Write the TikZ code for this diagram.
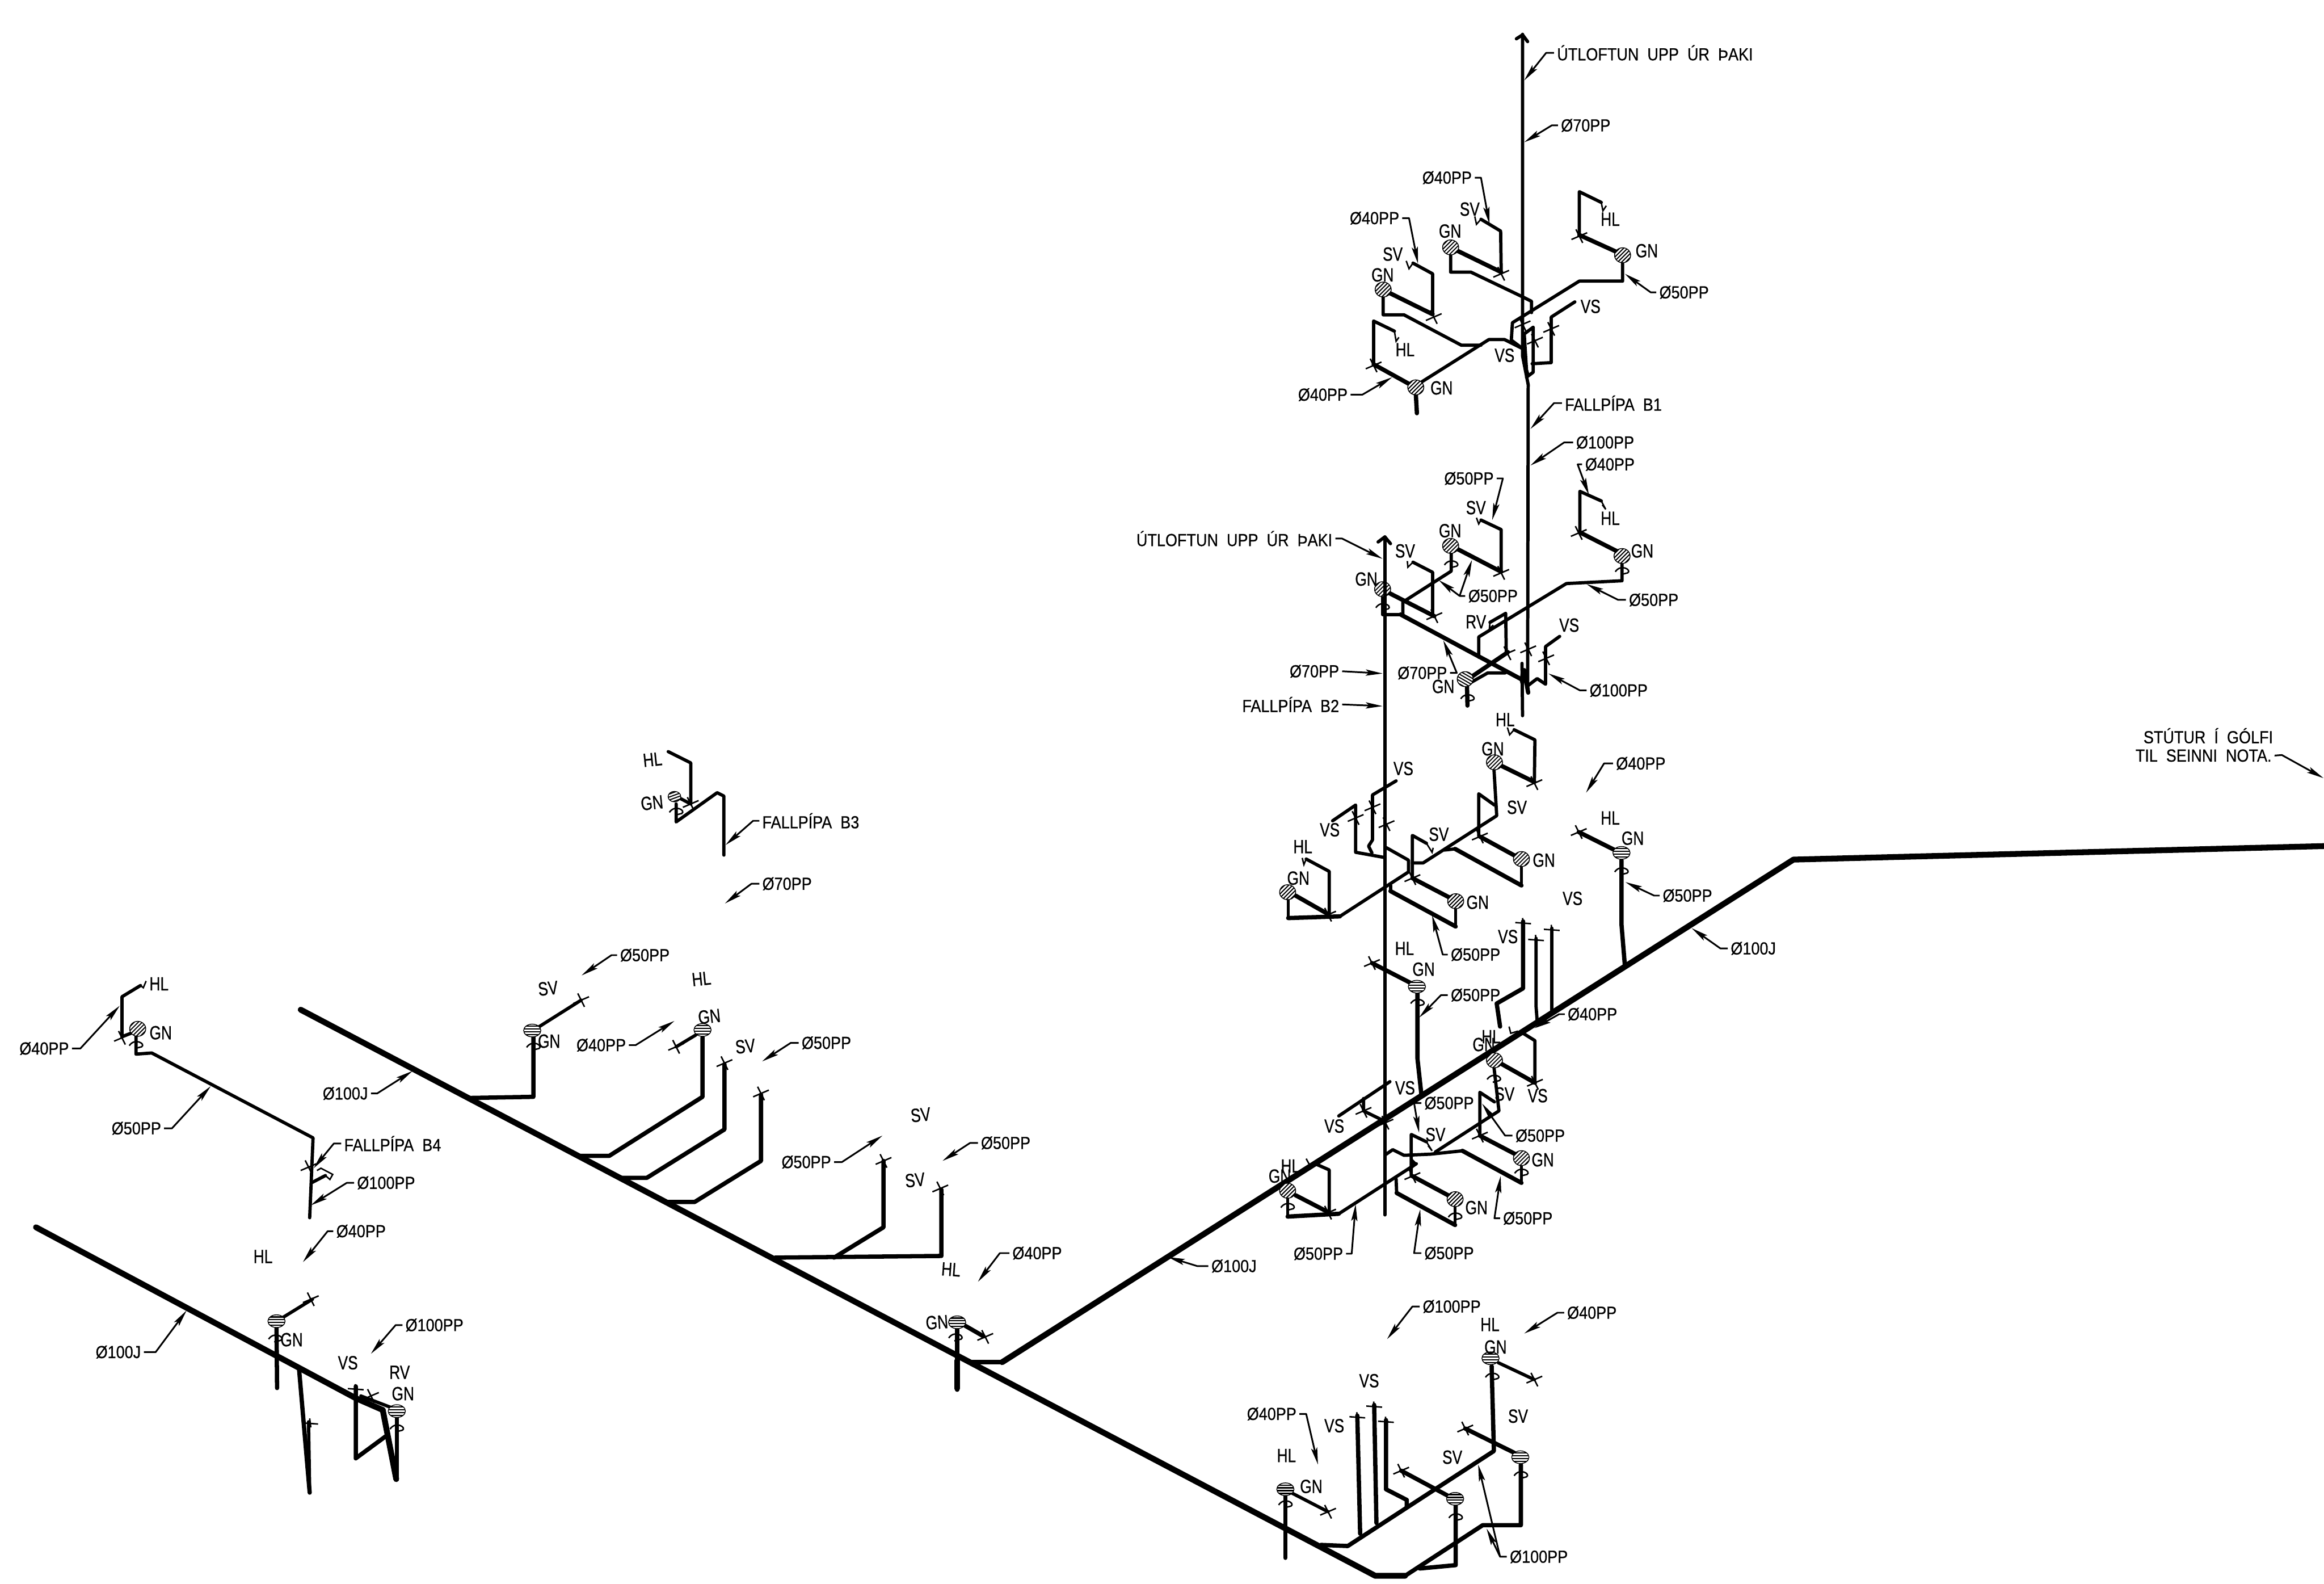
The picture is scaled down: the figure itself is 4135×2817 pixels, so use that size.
\documentclass[tikz,border=0pt]{standalone}
\usepackage{fontspec}
\usetikzlibrary{arrows.meta}
\newfontfamily\cadf[FakeBold=0.7]{Liberation Sans}
\newcounter{cn}
\tikzset{
 pa/.style={line width=2.25pt,line cap=round,line join=round},
 pb/.style={line width=2.9pt,line cap=round,line join=round},
 pc/.style={line width=3.8pt,line cap=round,line join=round},
 pd/.style={line width=5.2pt,line cap=round,line join=round},
 wg/.style={line width=1.3pt,line join=miter},
 mk/.style={line width=1.3pt},
 lead/.style={line width=1.5pt,line join=round,-{Stealth[length=15pt,width=5.5pt,inset=3pt]}},
 tagn/.style={font=\cadf\fontsize{17}{19}\selectfont,inner sep=0pt},
 labn/.style={font=\cadf\fontsize{15.5}{18}\selectfont,inner sep=2.5pt},
}
\newcommand\tg[4][0]{\stepcounter{cn}\node[tagn,rotate=#1] (t\arabic{cn}) at (#2,#3) {\scalebox{.78}[1]{#4}};}
% \lb{anchor}{x}{y}{text}{rest of leader path}
\newcommand\lb[5]{\stepcounter{cn}\node[labn,anchor=#1] (n\arabic{cn}) at (#2,#3) {\scalebox{.88}[1]{#4}};\draw[lead] (n\arabic{cn}.#1) #5;}
\newcommand\xm[2]{\draw[mk] (#1-14,#2+6)--(#1+14,#2-6) (#1-6,#2-12)--(#1+6,#2+12);}
\newcommand\tk[2]{\draw[mk] (#1-14,#2)--(#1+14,#2+2) (#1-1,#2-8)--(#1+1,#2+8);}
\newcommand\wig[2]{\draw[mk] (#1-12,#2+5) .. controls (#1-2,#2-10) and (#1+18,#2+2) .. (#1+10,#2+7) -- (#1-2,#2+10);}
\newcommand\gnx[5]{\fill[black] (#1,#2) ellipse [x radius=#3,y radius=#4];
 \begin{scope}\clip (#1,#2) ellipse [x radius=#3-1.5,y radius=#4-1.5];
 \foreach \i in {-10,-5,0,5,10} \draw[white,line width=1.4pt,rotate around={#5:(#1,#2)}] (#1-25,#2+\i)--(#1+25,#2+\i);
 \end{scope}}
\newcommand\gn[2]{\gnx{#1}{#2}{15}{14}{45}}
\newcommand\gh[2]{\gnx{#1}{#2}{16}{12}{0}}
\begin{document}
\begin{tikzpicture}[x=.5pt,y=-.5pt]
\useasboundingbox (0,0) rectangle (4135,2817);
\fill[white] (0,0) rectangle (4135,2817);
% ---------- main drains
\draw[pd] (535,1796)--(2447,2803)--(2500,2803);
\draw[pc] (2500,2803)--(2638,2713)--(2706,2713)--(2706,2605);
\draw[pc] (1730,2423)--(1783,2423);
\draw[pd] (1783,2423)--(3191,1529)--(4135,1505);
\draw[pd] (64,2183)--(633,2487)--(681,2508);
\draw[pd] (681,2508)--(705,2631);
% ---------- stack B1
\draw[pb] (2709,61)--(2709,633)--(2719,684)--(2718,1228);
\draw[pb] (2698,69)--(2709,62)--(2718,74);
% top cluster
\draw[wg] (2624,385)--(2627,399)--(2635,390);
\draw[pb] (2635,390)--(2670,411)--(2671,484);
\draw[pc] (2671,484)--(2593,446);
\xm{2671}{487}
\draw[pb] (2581,449)--(2581,484)--(2617,484)--(2709,528)--(2725,536)--(2725,556);
\gn{2581}{440}
\draw[wg] (2502,464)--(2507,478)--(2514,468);
\draw[pb] (2514,468)--(2549,487)--(2549,559);
\draw[pc] (2549,559)--(2470,520);
\xm{2551}{564}
\draw[pb] (2461,525)--(2461,560)--(2498,560)--(2600,614)--(2635,614);
\gn{2461}{515}
\draw[pb] (2530,679)--(2649,604)--(2677,604)--(2709,620);
\draw[pc] (2519,699)--(2521,735);
\draw[pb] (2444,648)--(2444,571)--(2481,589);
\draw[wg] (2481,589)--(2484,607)--(2489,600);
\draw[pc] (2444,648)--(2509,684);
\xm{2444}{650}
\gn{2519}{689}
\draw[pb] (2849,360)--(2810,341)--(2810,418);
\draw[wg] (2849,360)--(2852,375)--(2858,366);
\draw[pc] (2810,418)--(2876,448);
\xm{2810}{420}
\draw[pb] (2887,464)--(2887,500)--(2810,500)--(2691,574)--(2689,605)--(2709,620);
\gn{2887}{454}
\draw[pb] (2802,537)--(2760,564)--(2760,645)--(2726,647);
\xm{2760}{585}
\draw[pb] (2716,671)--(2728,662)--(2728,582)--(2712,594)--(2716,658)--(2719,668);
\xm{2731}{606}
\xm{2709}{577}
% second cluster
\draw[pb] (2849,891)--(2811,874)--(2811,947);
\draw[wg] (2849,891)--(2857,906)--(2851,898);
\draw[pc] (2811,947)--(2878,981);
\xm{2809}{948}
\draw[pb] (2886,998)--(2886,1033)--(2787,1038)--(2631,1133)--(2631,1169);
\wig{2886}{1012}
\gn{2886}{989}
\draw[pb] (2651,1107)--(2679,1091)--(2680,1162);
\draw[wg] (2651,1107)--(2650,1118)--(2657,1112);
\draw[pc] (2683,1160)--(2618,1204);
\xm{2682}{1162}
\draw[pb] (2610,1218)--(2647,1197)--(2678,1197);
\draw[pc] (2610,1215)--(2611,1255);
\wig{2611}{1238}
\gnx{2607}{1208}{15}{14}{-30}
\draw[pb] (2460,1060)--(2460,1093)--(2492,1093);
\draw[pc] (2492,1093)--(2710,1210);
\wig{2460}{1076}
\draw[pc] (2468,1053)--(2552,1096);
\xm{2552}{1096}
\draw[pb] (2514,1000)--(2549,1018)--(2549,1096);
\draw[wg] (2504,998)--(2505,1009)--(2514,1000);
\gn{2460}{1048}
\draw[pb] (2582,982)--(2582,1016)--(2496,1071)--(2496,1096);
\wig{2582}{1000}
\draw[pc] (2592,976)--(2671,1017);
\xm{2671}{1019}
\draw[pb] (2635,925)--(2671,942)--(2671,1017);
\draw[wg] (2627,921)--(2631,932)--(2635,925);
\gn{2581}{971}
\draw[pb] (2708,1180)--(2709,1273);
\fill (2708,1178)--(2713,1210)--(2709,1232)--(2704,1210)--cycle;
\draw[pc] (2712,1192)--(2719,1232);
\draw[pb] (2718,1220)--(2735,1207)--(2750,1217)--(2750,1150)--(2775,1132);
\xm{2719}{1155}
\xm{2751}{1171}
% ---------- stack B2
\draw[pb] (2464,955)--(2464,2161);
\draw[pb] (2452,964)--(2464,955)--(2474,967);
% third cluster
\draw[wg] (2682,1294)--(2686,1307)--(2694,1298);
\draw[pb] (2694,1298)--(2731,1316)--(2730,1391);
\draw[pc] (2730,1391)--(2669,1361);
\xm{2730}{1393}
\draw[pb] (2658,1366)--(2663,1451)--(2532,1535)--(2513,1535);
\gn{2659}{1356}
\draw[pb] (2659,1432)--(2631,1412)--(2631,1487);
\draw[pc] (2633,1488)--(2697,1523);
\xm{2633}{1488}
\draw[pb] (2707,1537)--(2707,1575);
\draw[pc] (2707,1575)--(2589,1510);
\draw[pb] (2589,1510)--(2570,1512);
\gn{2707}{1528}
\draw[wg] (2538,1500)--(2548,1516)--(2550,1508);
\draw[pb] (2538,1500)--(2513,1486)--(2513,1562);
\draw[pc] (2513,1562)--(2580,1597);
\xm{2513}{1562}
\draw[pb] (2590,1614)--(2590,1648);
\draw[pc] (2590,1648)--(2474,1585);
\draw[pb] (2474,1585)--(2474,1575);
\gn{2590}{1603}
\draw[pb] (2467,1508)--(2506,1530)--(2506,1551)--(2384,1630);
\draw[pc] (2384,1630)--(2292,1633);
\draw[pb] (2292,1633)--(2292,1598);
\draw[pc] (2305,1593)--(2363,1626);
\xm{2363}{1627}
\draw[pb] (2324,1528)--(2365,1550)--(2365,1625);
\draw[wg] (2317,1526)--(2320,1538)--(2324,1528);
\gn{2291}{1587}
\draw[pb] (2371,1460)--(2412,1432)--(2412,1516)--(2462,1525);
\xm{2412}{1455}
\draw[pb] (2484,1389)--(2442,1414)--(2442,1494)--(2435,1505)--(2441,1517);
\xm{2442}{1436}
\xm{2467}{1466}
% mid-right branches
\draw[pc] (2809,1480)--(2873,1512);
\xm{2809}{1480}
\draw[pc] (2885,1530)--(2885,1644)--(2891,1717);
\wig{2885}{1546}
\gh{2885}{1517}
\draw[pc] (2710,1639)--(2710,1758)--(2663,1785)--(2669,1826);
\tk{2710}{1641}
\draw[pb] (2733,1669)--(2733,1790)--(2735,1816);
\tk{2733}{1671}
\draw[pb] (2761,1651)--(2761,1798);
\tk{2761}{1653}
\draw[pc] (2441,1713)--(2509,1748);
\xm{2441}{1713}
\draw[pc] (2522,1762)--(2522,1883)--(2529,1947);
\wig{2522}{1780}
\gh{2521}{1755}
% fourth cluster
\draw[wg] (2685,1826)--(2688,1838)--(2701,1834);
\draw[pb] (2710,1838)--(2731,1851)--(2731,1924);
\draw[pc] (2731,1926)--(2669,1891);
\xm{2731}{1926}
\draw[pb] (2658,1897)--(2667,1976)--(2554,2049);
\wig{2658}{1915}
\gn{2659}{1886}
\draw[pb] (2465,2054)--(2478,2045)--(2498,2055)--(2545,2053)--(2602,2047);
\draw[pc] (2602,2047)--(2707,2104);
\draw[pb] (2707,2072)--(2707,2104);
\wig{2707}{2082}
\draw[pc] (2633,2020)--(2698,2054);
\xm{2633}{2020}
\draw[pb] (2659,1960)--(2633,1943)--(2633,2020);
\gn{2707}{2060}
\draw[wg] (2538,2031)--(2548,2047)--(2541,2038);
\draw[pb] (2538,2031)--(2511,2018)--(2511,2092);
\draw[pc] (2513,2092)--(2580,2128);
\xm{2513}{2092}
\draw[pb] (2589,2145)--(2589,2179);
\wig{2589}{2160}
\draw[pc] (2589,2179)--(2485,2122);
\draw[pb] (2485,2122)--(2484,2097);
\gn{2589}{2133}
\draw[pb] (2520,2070)--(2382,2159);
\fill (2510,2058)--(2522,2070)--(2510,2082)--cycle;
\draw[pc] (2382,2159)--(2291,2164);
\draw[pb] (2291,2164)--(2291,2129);
\wig{2291}{2143}
\draw[pc] (2305,2126)--(2363,2156);
\xm{2363}{2157}
\draw[pb] (2340,2070)--(2365,2081)--(2365,2156);
\draw[wg] (2324,2061)--(2330,2072)--(2340,2070);
\gn{2291}{2118}
\draw[pb] (2473,1924)--(2382,1985);
\draw[pb] (2426,1954)--(2426,1976)--(2465,1995);
\xm{2426}{1976}
\xm{2465}{1997}
% bottom centre
\draw[pc] (2350,2748)--(2398,2750)--(2658,2581)--(2654,2430);
\draw[pb] (2666,2424)--(2730,2454);
\xm{2730}{2454}
\wig{2655}{2445}
\gh{2652}{2416}
\draw[pc] (2607,2541)--(2694,2584);
\xm{2607}{2541}
\wig{2706}{2620}
\gh{2705}{2592}
\draw[pc] (2526,2790)--(2590,2784)--(2590,2678);
\wig{2590}{2695}
\draw[pc] (2493,2616)--(2577,2661);
\xm{2493}{2616}
\gh{2589}{2666}
\draw[pc] (2287,2656)--(2287,2771);
\wig{2287}{2672}
\draw[pb] (2299,2656)--(2363,2689);
\xm{2363}{2689}
\gh{2287}{2649}
\draw[pc] (2415,2518)--(2420,2728);
\tk{2415}{2520}
\draw[pc] (2445,2499)--(2449,2709);
\tk{2445}{2501}
\draw[pc] (2466,2526)--(2466,2649)--(2503,2668)--(2503,2680);
\tk{2466}{2528}
% ---------- left group B3
\draw[pb] (1189,1337)--(1229,1357)--(1229,1430);
\draw[pb] (1208,1419)--(1229,1430);
\xm{1229}{1430}
\draw[pb] (1203,1430)--(1203,1462)--(1276,1410)--(1288,1416)--(1288,1521);
\wig{1203}{1440}
\gnx{1200}{1417}{12}{10}{20}
% branches off main drain
\draw[pb] (958,1827)--(1034,1779);
\xm{1034}{1779}
\draw[pc] (949,1845)--(949,1951)--(835,1953);
\wig{949}{1858}
\gh{947}{1833}
\draw[pb] (1238,1841)--(1203,1862);
\xm{1203}{1862}
\draw[pc] (1250,1845)--(1250,1951)--(1084,2056)--(1031,2056);
\gh{1250}{1832}
\xm{1289}{1891}
\draw[pc] (1289,1893)--(1289,2009)--(1151,2095)--(1102,2095);
\xm{1354}{1945}
\draw[pc] (1354,1947)--(1354,2065)--(1236,2138)--(1186,2138);
\xm{1572}{2065}
\draw[pc] (1572,2065)--(1572,2183)--(1484,2237);
\draw[pc] (1379,2237)--(1675,2234)--(1675,2116);
\xm{1673}{2114}
% centre GN on main drain
\draw[pc] (1703,2360)--(1703,2472);
\draw[line width=4.6pt,line cap=round] (1703,2420)--(1703,2470);
\wig{1700}{2375}
\draw[pc] (1717,2358)--(1750,2377);
\xm{1753}{2378}
\gh{1703}{2352}
% ---------- far left group
\draw[pb] (250,1753)--(217,1773)--(217,1844);
\draw[wg] (250,1753)--(255,1757)--(260,1745);
\draw[pb] (217,1844)--(238,1836);
\xm{217}{1846}
\draw[pb] (242,1841)--(242,1875)--(270,1873)--(557,2024)--(551,2166);
\wig{242}{1855}
\gn{245}{1830}
\xm{549}{2076}
\draw[pb] (556,2103)--(579,2091);
\draw[mk] (579,2091)--(587,2098)--(592,2089)--(571,2078)--(564,2082);
% bottom-left group
\draw[pb] (504,2343)--(556,2311);
\xm{553}{2311}
\draw[pc] (492,2361)--(493,2469);
\wig{490}{2377}
\gh{492}{2350}
\draw[pc] (532,2434)--(551,2655);
\draw[pb] (549,2529)--(551,2655);
\tk{552}{2531}
\draw[pc] (633,2466)--(633,2594)--(686,2555);
\tk{633}{2470}
\draw[pb] (642,2483)--(697,2504);
\xm{660}{2483}
\draw[pc] (706,2519)--(706,2631);
\wig{706}{2537}
\gh{706}{2510}
% ---------- tags
\tg{2615}{372}{SV}\tg{2580}{411}{GN}\tg{2478}{452}{SV}\tg{2460}{489}{GN}
\tg{2865}{390}{HL}\tg{2930}{446}{GN}\tg{2830}{545}{VS}\tg{2677}{632}{VS}
\tg{2500}{622}{HL}\tg{2565}{690}{GN}
\tg{2865}{922}{HL}\tg{2922}{980}{GN}\tg{2626}{903}{SV}\tg{2580}{944}{GN}
\tg{2500}{980}{SV}\tg{2431}{1030}{GN}\tg{2626}{1106}{RV}\tg{2792}{1112}{VS}
\tg{2568}{1221}{GN}
\tg{2678}{1280}{HL}\tg{2656}{1332}{GN}\tg{2497}{1367}{VS}\tg{2699}{1436}{SV}
\tg{2560}{1484}{SV}\tg{2366}{1476}{VS}\tg{2318}{1506}{HL}\tg{2747}{1530}{GN}
\tg{2310}{1562}{GN}\tg{2629}{1605}{GN}\tg{2865}{1455}{HL}\tg{2905}{1491}{GN}
\tg{2798}{1598}{VS}\tg{2683}{1666}{VS}\tg{2499}{1687}{HL}\tg{2533}{1724}{GN}
\tg{2653}{1844}{HL}\tg{2640}{1858}{GN}\tg{2677}{1946}{SV}\tg{2736}{1949}{VS}
\tg{2500}{1935}{VS}\tg{2374}{2003}{VS}\tg{2554}{2018}{SV}\tg{2745}{2063}{GN}
\tg{2296}{2074}{HL}\tg{2277}{2092}{GN}\tg{2627}{2148}{GN}
\tg{2436}{2456}{VS}\tg{2374}{2536}{VS}\tg{2289}{2589}{HL}\tg{2333}{2644}{GN}
\tg{2584}{2592}{SV}\tg{2701}{2519}{SV}\tg{2651}{2356}{HL}\tg{2661}{2396}{GN}
\tg[6]{1161}{1351}{HL}\tg[6]{1160}{1428}{GN}\tg[6]{975}{1758}{SV}\tg{977}{1852}{GN}
\tg[6]{1248}{1741}{HL}\tg[6]{1262}{1808}{GN}\tg[6]{1326}{1861}{SV}\tg[6]{1638}{1983}{SV}
\tg[6]{1628}{2099}{SV}\tg[-4]{1692}{2258}{HL}\tg[4]{1667}{2352}{GN}
\tg{283}{1750}{HL}\tg{286}{1837}{GN}\tg{468}{2235}{HL}\tg{519}{2383}{GN}
\tg{619}{2424}{VS}\tg{711}{2441}{RV}\tg{717}{2479}{GN}
% ---------- leader labels
\lb{west}{2765}{94}{ÚTLOFTUN\ \ UPP\ \ ÚR\ \ ÞAKI}{--(2751,94)--(2712,143)}
\lb{west}{2772}{223}{Ø70PP}{--(2761,223)--(2712,253)}
\lb{east}{2624}{316}{Ø40PP}{--(2635,316)--(2650,398)}
\lb{east}{2495}{388}{Ø40PP}{--(2507,388)--(2523,469)}
\lb{east}{2403}{702}{Ø40PP}{--(2424,702)--(2477,671)}
\lb{west}{2947}{520}{Ø50PP}{--(2937,520)--(2891,487)}
\lb{west}{2779}{717}{FALLPÍPA\ \ B1}{--(2765,717)--(2723,763)}
\lb{west}{2799}{787}{Ø100PP}{--(2783,787)--(2723,828)}
\lb{west}{2815}{826}{Ø40PP}{--(2807,826)--(2827,880)}
\lb{east}{2663}{851}{Ø50PP}{--(2674,851)--(2655,925)}
\lb{west}{2893}{1067}{Ø50PP}{--(2879,1067)--(2823,1039)}
\lb{west}{2607}{1060}{Ø50PP}{--(2597,1060)--(2619,996)}
\draw[lead] (2597,1060)--(2560,1032);
\lb{east}{2376}{958}{ÚTLOFTUN\ \ UPP\ \ ÚR\ \ ÞAKI}{--(2388,958)--(2460,994)}
\lb{east}{2388}{1194}{Ø70PP}{--(2460,1198)}
\lb{east}{2388}{1253}{FALLPÍPA\ \ B2}{--(2460,1256)}
\lb{east}{2580}{1197}{Ø70PP}{--(2592,1197)--(2568,1139)}
\lb{west}{2823}{1228}{Ø100PP}{--(2811,1228)--(2755,1198)}
\lb{west}{2870}{1358}{Ø40PP}{--(2854,1358)--(2822,1410)}
\lb{west}{2953}{1593}{Ø50PP}{--(2943,1593)--(2892,1569)}
\lb{west}{3074}{1687}{Ø100J}{--(3061,1687)--(3010,1651)}
\lb{west}{2576}{1698}{Ø50PP}{--(2567,1698)--(2548,1628)}
\lb{west}{2576}{1770}{Ø50PP}{--(2564,1770)--(2525,1810)}
\lb{west}{2784}{1804}{Ø40PP}{--(2774,1804)--(2730,1829)}
\lb{west}{2529}{1962}{Ø50PP}{--(2516,1962)--(2525,2015)}
\lb{west}{2691}{2020}{Ø50PP}{--(2678,2020)--(2637,1963)}
\lb{west}{2669}{2167}{Ø50PP}{--(2659,2167)--(2670,2092)}
\lb{east}{2395}{2230}{Ø50PP}{--(2405,2230)--(2412,2142)}
\lb{west}{2529}{2229}{Ø50PP}{--(2516,2229)--(2527,2151)}
\lb{west}{2150}{2252}{Ø100J}{--(2130,2252)--(2078,2236)}
\lb{west}{2526}{2324}{Ø100PP}{--(2513,2324)--(2468,2382)}
\lb{west}{2783}{2335}{Ø40PP}{--(2771,2335)--(2712,2372)}
\lb{east}{2312}{2515}{Ø40PP}{--(2324,2515)--(2345,2605)}
\lb{west}{2681}{2769}{Ø100PP}{--(2669,2769)--(2630,2605)}
\draw[lead] (2669,2769)--(2645,2719);
\lb{west}{1351}{1460}{FALLPÍPA\ \ B3}{--(1340,1460)--(1291,1503)}
\lb{west}{1351}{1572}{Ø70PP}{--(1337,1572)--(1290,1607)}
\lb{west}{1098}{1699}{Ø50PP}{--(1088,1699)--(1035,1735)}
\lb{east}{1119}{1859}{Ø40PP}{--(1131,1859)--(1200,1816)}
\lb{west}{1421}{1855}{Ø50PP}{--(1407,1855)--(1356,1888)}
\lb{east}{1484}{2067}{Ø50PP}{--(1498,2067)--(1570,2020)}
\lb{west}{1740}{2033}{Ø50PP}{--(1726,2033)--(1677,2065)}
\lb{west}{1796}{2229}{Ø40PP}{--(1779,2229)--(1740,2280)}
\lb{east}{128}{1865}{Ø40PP}{--(143,1865)--(213,1789)}
\lb{east}{292}{2007}{Ø50PP}{--(306,2007)--(375,1932)}
\lb{east}{660}{1945}{Ø100J}{--(671,1945)--(734,1905)}
\lb{west}{607}{2034}{FALLPÍPA\ \ B4}{--(594,2034)--(558,2078)}
\lb{west}{630}{2104}{Ø100PP}{--(617,2104)--(553,2144)}
\lb{east}{256}{2405}{Ø100J}{--(277,2405)--(332,2331)}
\lb{west}{593}{2190}{Ø40PP}{--(583,2190)--(539,2245)}
\lb{west}{716}{2357}{Ø100PP}{--(704,2357)--(660,2408)}
\stepcounter{cn}\node[labn,anchor=base] (n\arabic{cn}) at (3929,1322) {\scalebox{.88}[1]{STÚTUR\ \ Í\ \ GÓLFI}};
\lb{east}{4047}{1344}{TIL\ \ SEINNI\ \ NOTA.}{--(4060,1343)--(4134,1384)}
\end{tikzpicture}
\end{document}
